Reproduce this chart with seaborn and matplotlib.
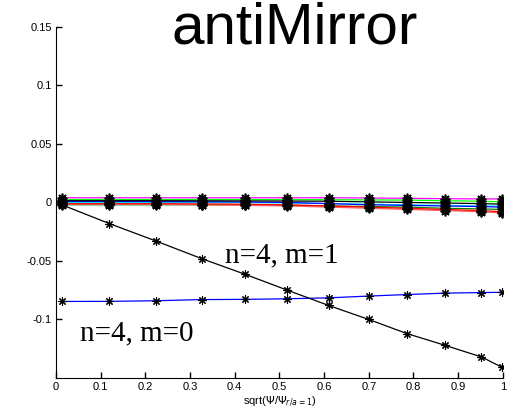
import numpy as np
import pandas as pd
import matplotlib
matplotlib.use("Agg")
from matplotlib import pyplot as plt
import seaborn as sns

# radial positions sqrt(psi/psi_edge)
rho = [0.013, 0.119, 0.224, 0.326, 0.424, 0.518, 0.61, 0.70, 0.785, 0.87, 0.952, 0.999]

# n=4, m=1 (black)
m1 = [-0.002, -0.018, -0.033, -0.048, -0.0615, -0.075, -0.088, -0.100, -0.112, -0.122, -0.132, -0.141]
# n=4, m=0 (blue)
m0 = [-0.0846, -0.0845, -0.084, -0.083, -0.0828, -0.0823, -0.0815, -0.080, -0.0787, -0.0775, -0.077, -0.0768]

# other harmonics, all near zero
h_magenta = [0.004, 0.004, 0.004, 0.004, 0.004, 0.004, 0.004, 0.0038, 0.0035, 0.0032, 0.003, 0.003]
h_lime = [0.0025, 0.0025, 0.0025, 0.0025, 0.0025, 0.0024, 0.0023, 0.0022, 0.002, 0.0015, 0.001, 0.0005]
h_black = [0.0015, 0.0015, 0.0015, 0.0014, 0.0013, 0.0012, 0.001, 0.0005, 0.0, -0.0005, -0.001, -0.0015]
h_blue = [0.0008, 0.0008, 0.0007, 0.0006, 0.0004, 0.0, -0.001, -0.002, -0.0025, -0.003, -0.0035, -0.004]
h_cyan = [0.0, 0.0, 0.0, 0.0, 0.0, -0.0005, -0.001, -0.0015, -0.002, -0.0025, -0.003, -0.003]
h_red = [-0.001, -0.001, -0.001, -0.0012, -0.0015, -0.002, -0.003, -0.004, -0.005, -0.006, -0.007, -0.008]
h_green = [-0.002, -0.002, -0.002, -0.002, -0.002, -0.0025, -0.003, -0.0035, -0.004, -0.005, -0.0055, -0.006]
h_salmon = [-0.0015, -0.0015, -0.0015, -0.002, -0.0025, -0.003, -0.004, -0.005, -0.006, -0.007, -0.008, -0.009]

series = [
    ("magenta", h_magenta, "#ff00ff"),
    ("lime", h_lime, "#00ff00"),
    ("green", h_green, "#008000"),
    ("salmon", h_salmon, "#ff6060"),
    ("red", h_red, "#ff0000"),
    ("cyan", h_cyan, "#00ffff"),
    ("blue", h_blue, "#0000ff"),
    ("black", h_black, "#000000"),
    ("m0", m0, "#0000ff"),
    ("m1", m1, "#000000"),
]

rows = []
for name, vals, col in series:
    for x, y in zip(rho, vals):
        rows.append({"rho": x, "val": y, "name": name})
df = pd.DataFrame(rows)

sns.set_style("ticks")
plt.rcParams["font.family"] = ["Liberation Sans", "DejaVu Sans"]
plt.rcParams["text.color"] = "black"

fig = plt.figure(figsize=(5.16, 4.2), dpi=100)
ax = fig.add_axes([0.1085, 0.1, 0.866, 0.836])

for name, vals, col in series:
    small = name in ("m0", "m1")
    sns.lineplot(data=df[df["name"] == name], x="rho", y="val", ax=ax, color=col,
                 linewidth=0.9, marker=(8, 2, 0), markersize=6 if small else 7,
                 markeredgecolor="black", markerfacecolor="black",
                 markeredgewidth=0.8 if small else 1.2,
                 legend=False, estimator=None)

ax.set_xlim(0, 1)
ax.set_ylim(-0.15, 0.15)
ax.set_xticks(np.arange(0, 1.01, 0.1))
ax.set_xticklabels(["0", "0.1", "0.2", "0.3", "0.4", "0.5", "0.6", "0.7", "0.8", "0.9", "1"])
ax.set_yticks([-0.1, -0.05, 0, 0.05, 0.1, 0.15])
ax.set_yticklabels(["-0.1", "-0.05", "0", "0.05", "0.1", "0.15"])
ax.tick_params(direction="in", length=4, labelsize=8, colors="black", width=1.0,
               bottom=True, left=True, pad=3)
for s in ["top", "right"]:
    ax.spines[s].set_visible(False)
for s in ["left", "bottom"]:
    ax.spines[s].set_color("black")
    ax.spines[s].set_linewidth(0.8)

ax.set_xlabel(r"sqrt($\Psi$/$\Psi_{r/a=1}$)", fontsize=8, labelpad=2, color="black")
ax.set_ylabel("")

# big title, partly overlapping the top of the axes
fig.text(295 / 516, 1 - 44 / 420, "antiMirror", fontsize=42, ha="center", va="baseline", color="black")

ax.text(0.378, -0.045, "n=4, m=1", family="Liberation Serif", fontsize=21, va="center", ha="left")
ax.text(0.054, -0.112, "n=4, m=0", family="Liberation Serif", fontsize=21, va="center", ha="left")

fig.savefig("out.png", dpi=100)
